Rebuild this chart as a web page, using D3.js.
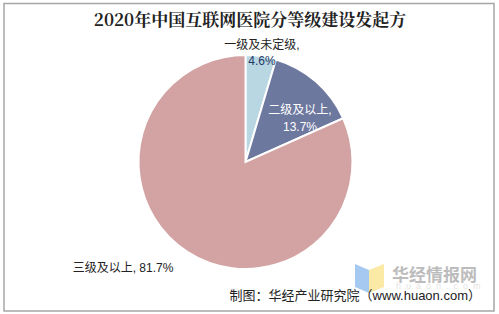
<!DOCTYPE html>
<html>
<head>
<meta charset="utf-8">
<script src="https://cdn.jsdelivr.net/npm/d3@7/dist/d3.min.js"></script>
<style>
  body { margin: 0; background: #fff; }
  svg { display: block; }
</style>
</head>
<body>
<div id="chart"></div>
<script>
'use strict';
// data
const categories = ['一级及未定级', '二级及以上', '三级及以上'];
const shares = [4.6, 13.7, 81.7];
const colors = ['#b9d6e3', '#6d789f', '#d3a3a3'];

const W = 499, H = 314;
const cx = 245.5, cy = 162, R = 107;

const svg = d3.select('#chart').append('svg')
    .attr('width', W)
    .attr('height', H);

svg.append('rect')
    .attr('x', 4).attr('y', 3.5)
    .attr('width', 490).attr('height', 307.5)
    .attr('fill', '#fff')
    .attr('stroke', '#a6a6a6')
    .attr('stroke-width', 1.5);

svg.append('text')
    .attr('x', 250).attr('y', 26)
    .attr('text-anchor', 'middle')
    .attr('font-family', '"Noto Serif CJK SC", "Noto Sans CJK SC", serif')
    .attr('font-weight', 'bold')
    .attr('font-size', 17)
    .attr('fill', '#222')
    .text('2020年中国互联网医院分等级建设发起方');

const data = categories.map((c, i) => ({name: c, value: shares[i], color: colors[i]}));

const pie = d3.pie().sort(null).value(d => d.value);
const arc = d3.arc().innerRadius(0).outerRadius(R);
const arcs = pie(data);

const g = svg.append('g').attr('transform', `translate(${cx},${cy})`);

g.selectAll('path')
    .data(arcs)
  .enter().append('path')
    .attr('d', arc)
    .attr('fill', d => d.data.color)
    .attr('stroke', '#fff')
    .attr('stroke-width', 2);

// data labels
const font = '"Liberation Sans", Arial, "Noto Sans CJK SC", sans-serif';
const labelSpecs = [
  {lines: [categories[0] + ',', shares[0] + '%'], x: 262, y: [49, 65], fill: ['#222', '#1f3864']},
  {lines: [categories[1] + ',', shares[1] + '%'], x: 300, y: [114, 131], fill: ['#fff', '#fff']},
  {lines: [categories[2] + ', ' + shares[2] + '%'], x: 123, y: [272], fill: ['#222']}
];
labelSpecs.forEach(s => {
  s.lines.forEach((t, i) => {
    svg.append('text')
        .attr('x', s.x).attr('y', s.y[i])
        .attr('text-anchor', 'middle')
        .attr('font-family', font)
        .attr('font-size', 12)
        .attr('fill', s.fill[i])
        .text(t);
  });
});

// watermark
const wm = svg.append('g');
wm.append('path')
    .attr('d', 'M355,264 L369,270 L369,293 L355,287 Z')
    .attr('fill', '#9cc3f0').attr('opacity', 0.9);
wm.append('path')
    .attr('d', 'M369,270 L384,264 L384,287 L369,293 Z')
    .attr('fill', '#fbe79c').attr('opacity', 0.9);
wm.append('text')
    .attr('x', 392).attr('y', 281)
    .attr('font-family', '"Noto Sans CJK SC", sans-serif')
    .attr('font-weight', 'bold')
    .attr('font-size', 17)
    .attr('fill', '#bcbcbc')
    .text('华经情报网');
wm.append('text')
    .attr('x', 396).attr('y', 289)
    .attr('font-family', font)
    .attr('font-size', 9)
    .attr('letter-spacing', 5)
    .attr('fill', '#e4e4e4')
    .text('huaon.com');

svg.append('text')
    .attr('x', 481).attr('y', 300)
    .attr('text-anchor', 'end')
    .attr('font-family', font)
    .attr('font-size', 13)
    .attr('fill', '#222')
    .text('制图：华经产业研究院（www.huaon.com）');
</script>
</body>
</html>
